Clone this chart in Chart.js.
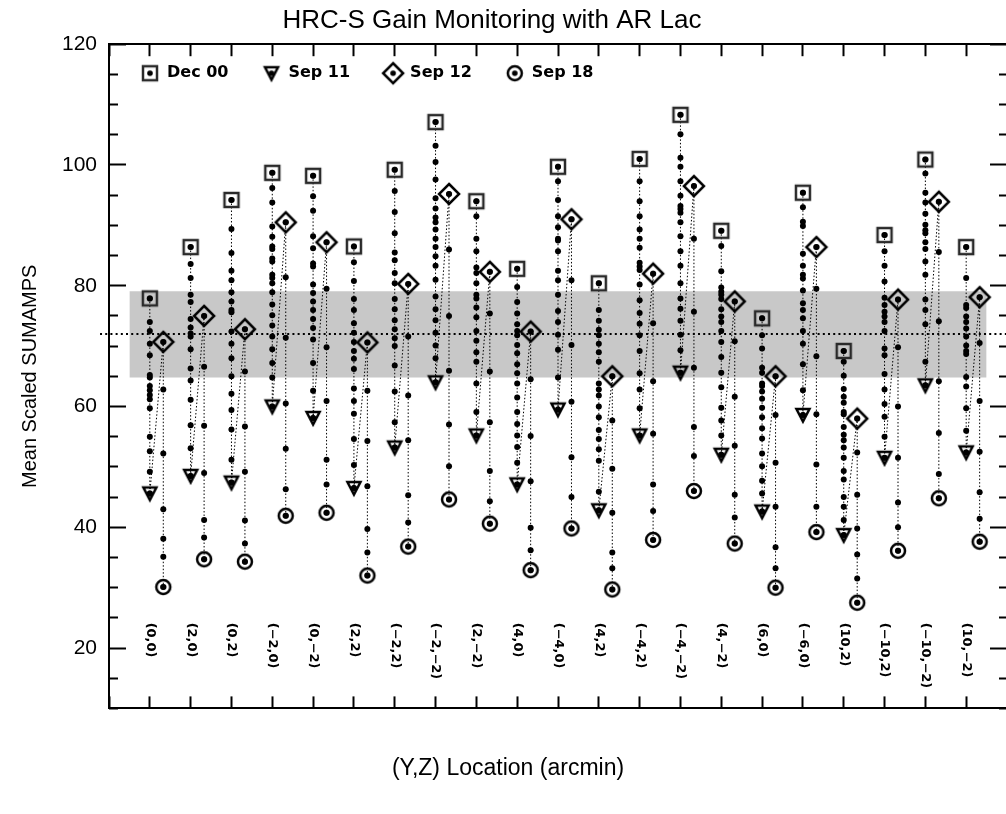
<!DOCTYPE html>
<html>
<head>
<meta charset="utf-8">
<title>HRC-S Gain Monitoring with AR Lac</title>
<script src="https://cdn.jsdelivr.net/npm/chart.js@4.4.1/dist/chart.umd.min.js"></script>
<style>
  html, body { margin: 0; padding: 0; background: #fff; overflow: hidden; }
  #wrap { width: 1016px; height: 814px; }
</style>
</head>
<body>
<div id="wrap"><canvas id="gain-chart"></canvas></div>
<script>
// (Y,Z) pointing positions, one per x slot 1..21
const locLabels = ['(0,0)', '(2,0)', '(0,2)', '(−2,0)', '(0,−2)', '(2,2)', '(−2,2)', '(−2,−2)', '(2,−2)', '(4,0)',
    '(−4,0)', '(4,2)', '(−4,2)', '(−4,−2)', '(4,−2)', '(6,0)', '(−6,0)', '(10,2)', '(−10,2)', '(−10,−2)', '(10,−2)'];

// marked epochs (mean scaled SUMAMPS)
const dec00 = [77.9, 86.4, 94.2, 98.7, 98.2, 86.5, 99.2, 107.1, 94.0, 82.8, 99.7, 80.4, 101.0, 108.3, 89.1, 74.6, 95.4, 69.2, 88.4, 100.9, 86.4];
const sep11 = [45.6, 48.5, 47.4, 60.0, 58.1, 46.5, 53.2, 64.0, 55.2, 47.1, 59.5, 42.8, 55.2, 65.6, 52.0, 42.6, 58.6, 38.7, 51.5, 63.5, 52.4];
const sep12 = [70.7, 75.0, 72.8, 90.5, 87.2, 70.6, 80.3, 95.2, 82.3, 72.4, 91.0, 65.0, 82.0, 96.5, 77.4, 65.0, 86.4, 58.0, 77.7, 93.9, 78.1];
const sep18 = [30.1, 34.7, 34.3, 41.9, 42.4, 32.0, 36.8, 44.6, 40.6, 32.9, 39.8, 29.7, 37.9, 46.0, 37.3, 30.0, 39.2, 27.5, 36.1, 44.8, 37.6];

// unmarked points between Dec 00 and Sep 11
const decDots = [
    [74.0, 72.5, 70.4, 68.5, 65.2, 64.8, 63.4, 62.7, 61.9, 61.2, 59.7, 55.0, 52.6, 49.2],
    [83.6, 81.3, 78.5, 77.3, 74.5, 73.1, 72.1, 71.6, 69.5, 66.3, 64.3, 61.1, 56.9, 53.1],
    [89.4, 85.4, 82.5, 80.9, 78.9, 77.4, 76.0, 75.6, 72.4, 70.4, 68.0, 65.0, 62.1, 59.4, 56.2, 51.2],
    [96.2, 93.8, 89.8, 88.1, 86.5, 86.1, 84.5, 84.0, 81.8, 81.3, 80.4, 78.9, 76.9, 75.1, 73.4, 71.6, 69.5, 67.2, 64.8],
    [94.8, 92.4, 88.2, 86.2, 83.7, 83.2, 80.2, 78.8, 77.4, 76.0, 74.5, 73.0, 71.1, 67.2, 62.6],
    [83.9, 80.8, 77.8, 76.0, 73.8, 72.2, 70.7, 69.2, 67.9, 66.2, 63.0, 60.9, 58.8, 54.6, 50.3],
    [95.7, 92.2, 88.7, 85.5, 84.2, 82.1, 80.4, 77.8, 76.1, 74.3, 72.8, 71.3, 70.0, 66.8, 62.5, 57.4],
    [103.2, 100.5, 97.6, 94.5, 92.8, 91.3, 90.5, 89.3, 87.8, 86.4, 84.9, 83.3, 81.0, 78.2, 76.1, 74.3, 72.2, 70.1, 68.0],
    [91.5, 87.8, 85.7, 83.0, 82.1, 80.4, 78.5, 77.9, 76.4, 74.8, 72.5, 70.9, 69.0, 67.4, 63.8, 59.1],
    [79.8, 77.3, 75.4, 73.6, 72.5, 71.8, 70.2, 68.8, 67.0, 65.5, 63.8, 61.5, 59.1, 57.1, 55.2, 53.3, 50.7],
    [97.3, 94.2, 91.5, 89.7, 87.8, 87.5, 85.7, 82.5, 80.9, 78.5, 75.8, 74.0, 71.9, 69.4, 64.8],
    [76.0, 74.2, 72.7, 71.8, 70.4, 69.0, 67.4, 63.8, 62.8, 61.8, 60.0, 58.2, 56.1, 54.6, 52.9, 51.0, 45.9],
    [97.3, 94.0, 91.5, 89.3, 87.8, 86.3, 83.8, 83.2, 82.6, 80.2, 77.6, 75.5, 73.7, 71.8, 69.2, 65.5, 62.8, 59.7],
    [105.1, 101.2, 99.7, 97.3, 94.9, 93.2, 92.7, 92.1, 90.5, 88.2, 85.7, 83.3, 80.4, 77.9, 76.2, 74.2, 71.9, 69.3],
    [86.6, 82.4, 79.7, 79.0, 78.5, 77.8, 76.1, 74.9, 74.0, 72.5, 70.7, 68.2, 65.6, 63.2, 59.8, 57.7, 55.2],
    [71.8, 69.6, 66.4, 65.6, 63.8, 63.4, 62.5, 61.3, 59.8, 58.2, 56.4, 54.7, 52.2, 50.1, 47.7, 45.6],
    [93.0, 90.6, 89.9, 85.3, 83.3, 81.8, 81.2, 79.2, 77.1, 76.0, 74.6, 72.5, 70.4, 67.0, 62.7],
    [67.4, 65.1, 62.9, 61.6, 60.6, 59.1, 58.7, 56.6, 55.3, 54.4, 53.2, 51.5, 49.3, 47.9, 45.0, 43.4, 41.2],
    [85.7, 83.3, 80.7, 78.0, 76.8, 75.7, 74.9, 74.0, 72.5, 69.6, 68.5, 65.4, 62.8, 60.4, 58.3, 55.0],
    [98.6, 95.4, 93.8, 91.9, 90.1, 89.2, 88.7, 87.2, 86.1, 84.0, 81.8, 77.7, 76.0, 73.6, 67.4],
    [81.3, 76.8, 76.3, 74.9, 74.0, 72.9, 71.6, 70.1, 69.2, 68.7, 64.9, 63.3, 59.7, 56.0]
];

// unmarked points between Sep 12 and Sep 18
const sepDots = [
    [62.8, 52.2, 43.0, 38.1, 35.1],
    [66.6, 56.8, 49.0, 41.2, 38.3],
    [65.8, 56.7, 49.2, 41.1, 37.3],
    [81.4, 71.4, 60.5, 53.0, 46.3],
    [79.5, 69.8, 60.9, 51.2, 47.1],
    [62.6, 54.3, 46.8, 39.7, 35.8],
    [71.6, 61.8, 54.4, 45.3, 40.8],
    [86.0, 75.0, 65.9, 57.0, 50.1],
    [75.4, 65.8, 57.4, 49.3, 44.3],
    [64.5, 55.1, 47.6, 39.9, 36.2],
    [80.9, 70.2, 60.8, 51.6, 45.0],
    [57.7, 49.7, 42.4, 35.8, 33.2],
    [73.8, 64.2, 55.5, 47.1, 42.7],
    [87.8, 75.7, 66.4, 56.6, 51.8],
    [70.8, 61.6, 53.5, 45.4, 41.6],
    [58.6, 50.7, 43.4, 36.7, 33.2],
    [79.5, 68.3, 58.7, 50.4, 43.4],
    [52.4, 45.4, 39.8, 35.5, 31.5],
    [69.8, 60.0, 51.5, 44.1, 40.0],
    [85.6, 74.1, 64.2, 55.6, 48.8],
    [70.5, 60.9, 52.5, 45.8, 41.4]
];

// +/- 1 sigma band and mean level
const bandLow = 64.8;
const bandHigh = 79.1;
const bandRange = [0.5, 21.5];
const meanLevel = 72.0;
const meanRange = [-0.22, 22];

const markerNames = ['Dec 00', 'Sep 11', 'Sep 12', 'Sep 18'];

// layout / style constants
const rightShift = 0.33;     // Sep 12..18 column sits right of the Dec..Sep 11 column
const labelTop = 24.2;       // y value where the rotated location labels start
const TICK_FONT = 'Liberation Sans';

// marker symbols with a dot inside, used by the chart and by the legend
function makeMarker(kind) {
    const c = document.createElement('canvas');
    const s = kind === 'diamond' ? 26 : 22;
    c.width = s;
    c.height = s;
    const g = c.getContext('2d');
    const m = s / 2;
    g.lineWidth = 2.5;
    g.lineJoin = 'miter';
    g.strokeStyle = kind === 'square' ? '#2a2a2a' : '#000';
    g.beginPath();
    if (kind === 'square') {
        g.rect(m - 7, m - 7, 14, 14);
    } else if (kind === 'triangle') {
        g.moveTo(m - 6.5, m - 6);
        g.lineTo(m + 6.5, m - 6);
        g.lineTo(m, m + 6.5);
        g.closePath();
    } else if (kind === 'diamond') {
        g.moveTo(m, m - 10);
        g.lineTo(m + 10, m);
        g.lineTo(m, m + 10);
        g.lineTo(m - 10, m);
        g.closePath();
    } else {
        g.arc(m, m, 7, 0, Math.PI * 2);
    }
    g.stroke();
    g.fillStyle = '#000';
    g.beginPath();
    g.arc(m, m, 2.8, 0, Math.PI * 2);
    g.fill();
    return c;
}

const symSquare = makeMarker('square');
const symTriangle = makeMarker('triangle');
const symDiamond = makeMarker('diamond');
const symCircle = makeMarker('circle');

// one dotted trace per location: Dec 00 -> Sep 11 (left column), Sep 12 -> Sep 18 (right column)
const seriesSets = locLabels.map((lab, i) => {
    const xl = i + 1;
    const xr = i + 1 + rightShift;
    const pts = [{ x: xl, y: dec00[i] }]
        .concat(decDots[i].map(v => ({ x: xl, y: v })))
        .concat([{ x: xl, y: sep11[i] }, { x: xr, y: sep12[i] }])
        .concat(sepDots[i].map(v => ({ x: xr, y: v })))
        .concat([{ x: xr, y: sep18[i] }]);
    return {
        label: lab,
        data: pts,
        showLine: true,
        borderColor: '#000',
        borderWidth: 1,
        borderDash: [1.5, 2],
        pointRadius: 3,
        pointBorderWidth: 0,
        pointBackgroundColor: '#000',
        order: 2
    };
});

function markerSet(name, values, sym, shift) {
    return {
        label: name,
        data: values.map((v, i) => ({ x: i + 1 + shift, y: v })),
        showLine: false,
        pointStyle: sym,
        pointRadius: 8,
        borderColor: '#000',
        backgroundColor: '#000',
        order: 1
    };
}

// legend drawn as one row inside the plot, title nudged to where the original has it
const boxTweaks = {
    id: 'boxTweaks',
    beforeLayout(chart) {
        if (chart.legend) chart.legend.isHorizontal = () => true;
    },
    afterLayout(chart) {
        const l = chart.legend;
        const ca = chart.chartArea;
        if (l) {
            const w = l.width, h = l.height;
            l.left = ca.left - 2; l.right = l.left + w;
            l.top = ca.top - 13; l.bottom = l.top + h;
        }
        const t = chart.titleBlock;
        if (t) { t.left -= 16; t.right -= 16; }
    }
};

// rotated (Y,Z) labels inside the plot
const locLabelPlugin = {
    id: 'locLabels',
    afterDatasetsDraw(chart) {
        const { ctx, scales: { x, y } } = chart;
        ctx.save();
        ctx.fillStyle = '#000';
        ctx.font = 'bold 12px "DejaVu Sans"';
        ctx.textBaseline = 'middle';
        ctx.textAlign = 'left';
        locLabels.forEach((lab, i) => {
            ctx.save();
            ctx.translate(x.getPixelForValue(i + 1), y.getPixelForValue(labelTop));
            ctx.rotate(Math.PI / 2);
            ctx.scale(1.08, 1);
            ctx.fillText(lab, 0, 0);
            ctx.restore();
        });
        ctx.restore();
    }
};

const isMajor = v => v % 20 === 0;

new Chart(document.getElementById('gain-chart'), {
    type: 'scatter',
    data: {
        datasets: [
            {
                label: 'band',
                data: bandRange.map(xv => ({ x: xv, y: bandHigh })),
                showLine: true,
                borderWidth: 0,
                pointRadius: 0,
                backgroundColor: '#c8c8c8',
                fill: { value: bandLow },
                order: 4
            },
            {
                label: 'mean',
                data: meanRange.map(xv => ({ x: xv, y: meanLevel })),
                showLine: true,
                borderColor: '#000',
                borderWidth: 2,
                borderDash: [2, 3.2],
                pointRadius: 0,
                clip: false,
                order: 3
            },
            ...seriesSets,
            markerSet('Dec 00', dec00, symSquare, 0),
            markerSet('Sep 11', sep11, symTriangle, 0),
            markerSet('Sep 12', sep12, symDiamond, rightShift),
            markerSet('Sep 18', sep18, symCircle, rightShift)
        ]
    },
    options: {
        responsive: true,
        maintainAspectRatio: false,
        animation: false,
        devicePixelRatio: 1,
        events: [],
        layout: { padding: 0 },
        plugins: {
            title: {
                display: true,
                text: 'HRC-S Gain Monitoring with AR Lac',
                color: '#000',
                font: { family: TICK_FONT, size: 26, weight: 'normal' },
                padding: { top: 5, bottom: 0 }
            },
            subtitle: {
                display: true,
                position: 'bottom',
                text: '(Y,Z) Location (arcmin)',
                color: '#000',
                font: { family: TICK_FONT, size: 23, weight: 'normal' },
                padding: { top: 0, bottom: 32 }
            },
            legend: {
                position: 'chartArea',
                align: 'start',
                labels: {
                    usePointStyle: true,
                    pointStyleWidth: 18,
                    padding: 34,
                    color: '#000',
                    font: { family: 'DejaVu Sans', size: 16, weight: 'bold' },
                    filter: item => markerNames.includes(item.text)
                }
            },
            tooltip: { enabled: false }
        },
        scales: {
            x: {
                type: 'linear',
                position: 'bottom',
                min: 0,
                max: 22,
                ticks: { stepSize: 1, maxTicksLimit: 30, display: false },
                grid: { drawOnChartArea: false, tickLength: -12, tickWidth: 2, tickColor: '#000' },
                border: { color: '#000', width: 2 },
                afterFit: s => { s.height = 46; }
            },
            x2: {
                type: 'linear',
                position: 'top',
                min: 0,
                max: 22,
                ticks: { stepSize: 1, maxTicksLimit: 30, display: false },
                grid: { drawOnChartArea: false, tickLength: -12, tickWidth: 2, tickColor: '#000' },
                border: { color: '#000', width: 2 },
                afterFit: s => { s.height = 8; }
            },
            y: {
                type: 'linear',
                position: 'left',
                min: 10,
                max: 120,
                ticks: {
                    stepSize: 5,
                    maxTicksLimit: 30,
                    autoSkip: false,
                    padding: 29,
                    color: '#000',
                    font: { family: TICK_FONT, size: 21 },
                    callback: v => (isMajor(v) ? String(v) : '')
                },
                grid: {
                    drawOnChartArea: false,
                    tickLength: -17,
                    tickWidth: 2,
                    tickColor: '#000',
                    tickBorderDash: ctx => (isMajor(ctx.tick.value) ? [] : [9, 8]),
                    tickBorderDashOffset: ctx => (isMajor(ctx.tick.value) ? 0 : 9)
                },
                border: { color: '#000', width: 2 },
                title: {
                    display: true,
                    text: 'Mean Scaled SUMAMPS',
                    color: '#000',
                    font: { family: TICK_FONT, size: 20 },
                    padding: { top: 18, bottom: 0 }
                },
                afterFit: s => { s.width = 109; }
            },
            y2: {
                type: 'linear',
                position: 'right',
                min: 10,
                max: 120,
                ticks: { stepSize: 5, maxTicksLimit: 30, autoSkip: false, display: false },
                grid: {
                    drawOnChartArea: false,
                    tickLength: -17,
                    tickWidth: 2,
                    tickColor: '#000',
                    tickBorderDash: ctx => (isMajor(ctx.tick.value) ? [] : [9, 30])
                },
                border: { color: '#000', width: 2 },
                afterFit: s => { s.width = 1; }
            }
        }
    },
    plugins: [boxTweaks, locLabelPlugin]
});
</script>
</body>
</html>
